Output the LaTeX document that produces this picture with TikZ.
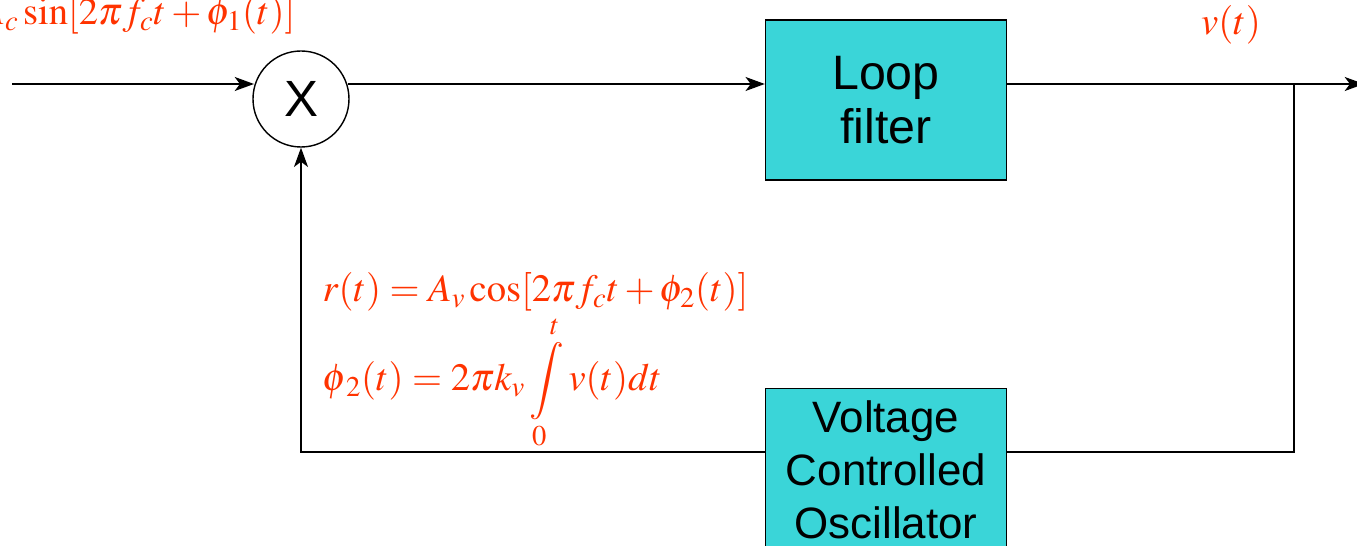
\documentclass[tikz,border=0pt]{standalone}
\usepackage{mathptmx}
\usepackage{fontspec}
\setsansfont{Liberation Sans}
\usetikzlibrary{positioning,arrows.meta}

\definecolor{boxfill}{HTML}{3AD5D8}
\definecolor{eqred}{HTML}{FF3300}

\tikzset{
    block/.style={draw,fill=boxfill,minimum width=241*0.02cm,align=center,
        font=\sffamily\fontsize{25}{30}\selectfont},
    eqn/.style={text=eqred,font=\fontsize{22}{26}\selectfont,inner sep=0pt}
}

\begin{document}
\begin{tikzpicture}[x=0.02cm,y=-0.02cm,>={Stealth[length=11pt,width=8pt,inset=3pt]},thick]
    \useasboundingbox (0,0) rectangle (1357,546);

    % Mixer
    \node[draw,circle,minimum size=96*0.02cm,inner sep=0pt,
        font=\sffamily\fontsize{29}{30}\selectfont] (mix) at (301,99) {X};

    % Loop filter and VCO blocks
    \node[block,minimum height=160*0.02cm,
        font=\sffamily\fontsize{27.5}{31}\selectfont] (lf) at (886,100) {Loop\\filter};
    \node[block,inner ysep=7pt,anchor=north] (vco) at (886,388)
        {Voltage\\Controlled\\Oscillator};

    % Helper coordinates
    \coordinate (in) at (12,84);
    \coordinate (out) at (1364,84);
    \coordinate (tap) at (1294,84);
    \coordinate (tapdown) at (1294,452);
    \coordinate (back) at (301,452);

    % Forward path
    \draw[->] (in) -- (254,84);
    \draw[->] (348,84) -- (lf.west |- 0,84);
    \draw[->] (lf.east |- 0,84) -- (out);

    % Feedback path
    \draw (tap) -- (tapdown) -- (vco.east |- tapdown);
    \draw[->] (vco.west |- back) -- (back) -- (mix.south);

    % Signal labels
    \node[eqn,anchor=base east] (sin) at (296,25)
        {$A_c\sin[2\pi f_c t+\phi_1(t)]$};
    \node[eqn,anchor=base] (vt) at (1231,35) {$v(t)$};
    \node[eqn,anchor=base west] (rt) at (322,302)
        {$r(t)=A_v\cos[2\pi f_c t+\phi_2(t)]$};
    \node[eqn,anchor=base west] (ph) at (322,391)
        {$\displaystyle\phi_{\,2}(t)=2\pi k_v\int\limits_0^t v(t)dt$};
\end{tikzpicture}
\end{document}
